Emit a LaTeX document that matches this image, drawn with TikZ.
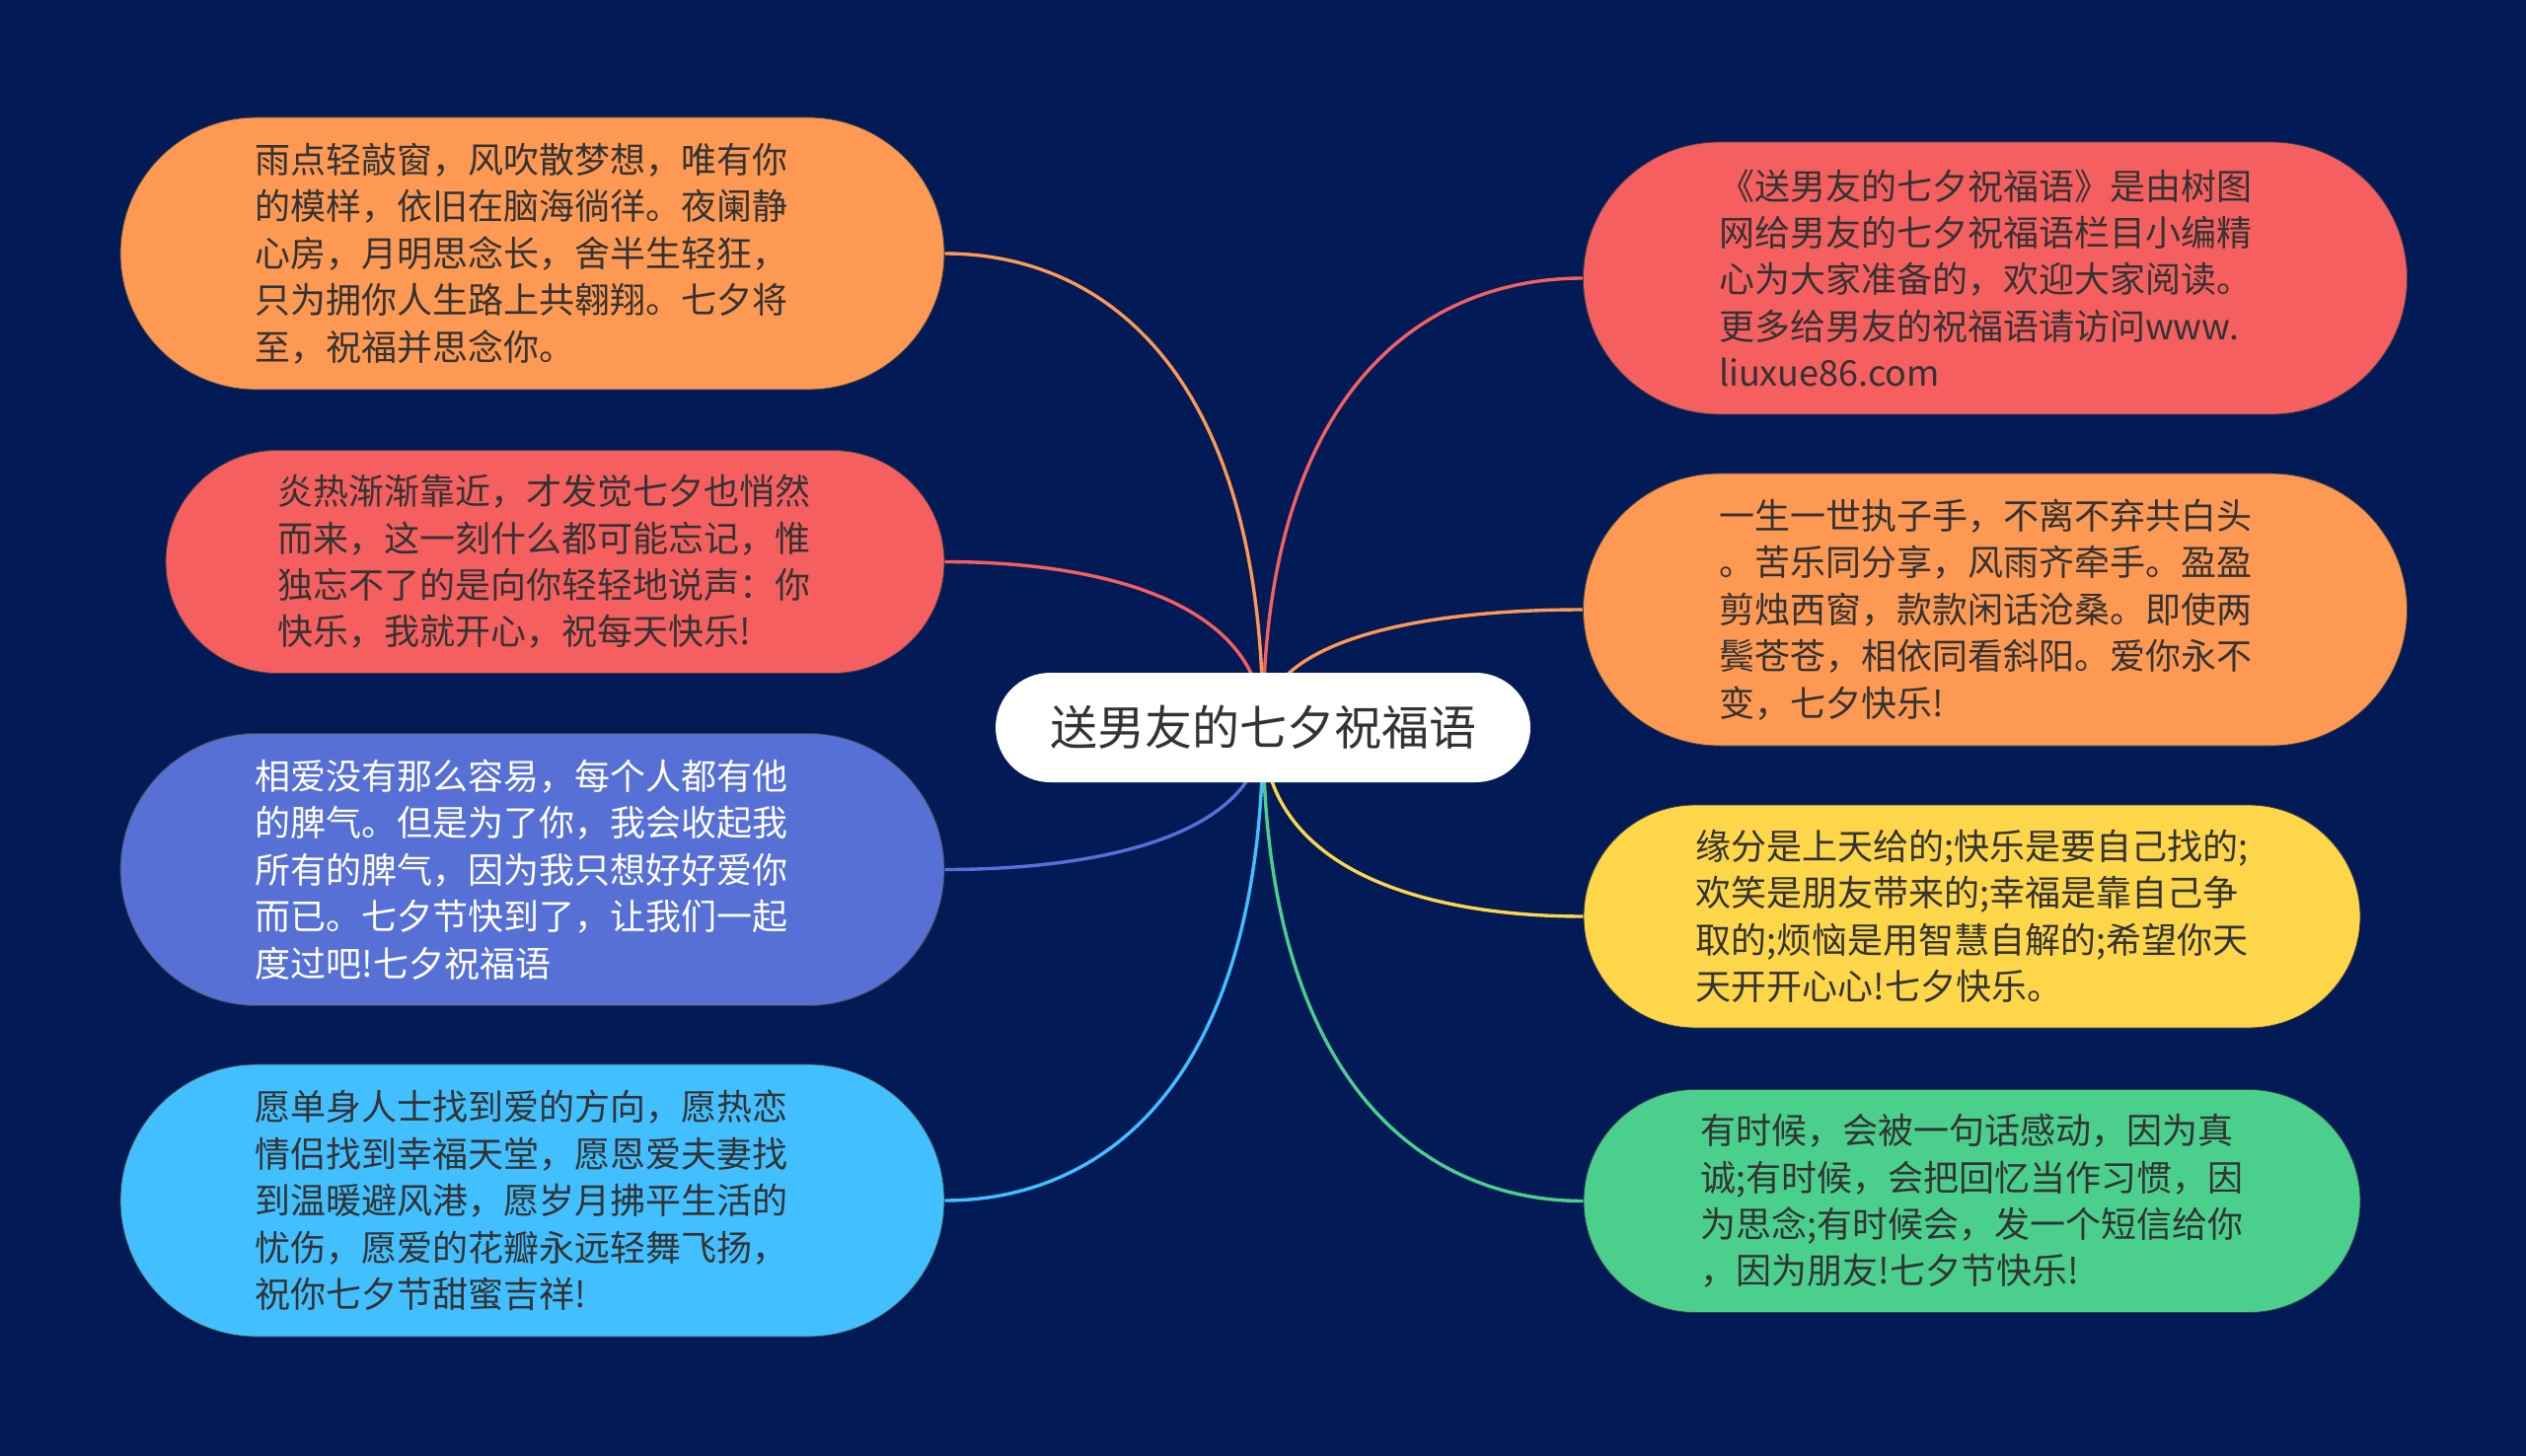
\documentclass[tikz,border=0pt]{standalone}
\usepackage{fontspec}
\newfontfamily\cjk{Noto Sans CJK SC}
\usetikzlibrary{calc}
\definecolor{bgc}{HTML}{021B57}
\definecolor{corange}{HTML}{FD9953}
\definecolor{cred}{HTML}{F65F60}
\definecolor{cblue}{HTML}{5770D6}
\definecolor{ccyan}{HTML}{42BFFE}
\definecolor{cyellow}{HTML}{FDD64A}
\definecolor{cgreen}{HTML}{4BCF8D}
\definecolor{ctext}{HTML}{333333}
\newcommand\padr[1]{\hspace*{#1}}
\pgfdeclarelayer{bglayer}
\pgfdeclarelayer{linelayer}
\pgfsetlayers{bglayer,linelayer,main}
\begin{document}
\begin{tikzpicture}[x=0.5pt,y=-0.5pt,
  leaf/.style={inner sep=0pt, align=left, draw=black!75, line width=0.4pt,
    text=ctext, font=\cjk\fontsize{18pt}{23.7pt}\selectfont},
  bigleaf/.style={leaf, minimum width=417.5pt, minimum height=138pt, rounded corners=69pt},
  smallleaf/.style={leaf, minimum height=113pt, rounded corners=56.5pt},
  rootnode/.style={inner sep=0pt, fill=white, text=ctext, minimum width=271pt,
    minimum height=55.5pt, rounded corners=27.75pt, font=\cjk\fontsize{24pt}{28pt}\selectfont},
  conn/.style={line width=1.7pt}]
\begin{pgfonlayer}{bglayer}
\fill[bgc] (0,0) rectangle (2560,1476);
\end{pgfonlayer}
\useasboundingbox (0,0) rectangle (2560,1476);

\node[rootnode] (C) at (1280,737.5) {送男友的七夕祝福语};

\node[bigleaf, fill=corange] (L1) at (539.5,257) {雨点轻敲窗，风吹散梦想，唯有你\padr{11pt}\\的模样，依旧在脑海徜徉。夜阑静\\心房，月明思念长，舍半生轻狂，\\只为拥你人生路上共翱翔。七夕将\\至，祝福并思念你。};
\node[smallleaf, fill=cred, minimum width=394.5pt] (L2) at (562.5,569.5) {炎热渐渐靠近，才发觉七夕也悄然\padr{11pt}\\而来，这一刻什么都可能忘记，惟\\独忘不了的是向你轻轻地说声：你\\快乐，我就开心，祝每天快乐!};
\node[bigleaf, fill=cblue, text=white] (L3) at (539.5,881.5) {相爱没有那么容易，每个人都有他\padr{11pt}\\的脾气。但是为了你，我会收起我\\所有的脾气，因为我只想好好爱你\\而已。七夕节快到了，让我们一起\\度过吧!七夕祝福语};
\node[bigleaf, fill=ccyan] (L4) at (539.5,1217) {愿单身人士找到爱的方向，愿热恋\padr{11pt}\\情侣找到幸福天堂，愿恩爱夫妻找\\到温暖避风港，愿岁月拂平生活的\\忧伤，愿爱的花瓣永远轻舞飞扬，\\祝你七夕节甜蜜吉祥!};

\node[bigleaf, fill=cred] (R1) at (2022,282) {《送男友的七夕祝福语》是由树图\padr{10pt}\\网给男友的七夕祝福语栏目小编精\\心为大家准备的，欢迎大家阅读。\\更多给男友的祝福语请访问www.\\liuxue86.com};
\node[bigleaf, fill=corange] (R2) at (2022,618) {一生一世执子手，不离不弃共白头\padr{10pt}\\。苦乐同分享，风雨齐牵手。盈盈\\剪烛西窗，款款闲话沧桑。即使两\\鬓苍苍，相依同看斜阳。爱你永不\\变，七夕快乐!};
\node[smallleaf, fill=cyellow, minimum width=393.5pt] (R3) at (1998.5,929) {缘分是上天给的;快乐是要自己找的;\\欢笑是朋友带来的;幸福是靠自己争\\取的;烦恼是用智慧自解的;希望你天\\天开开心心!七夕快乐。};
\node[smallleaf, fill=cgreen, minimum width=393.5pt] (R4) at (1998.5,1217.5) {有时候，会被一句话感动，因为真\\诚;有时候，会把回忆当作习惯，因\padr{5pt}\\为思念;有时候会，发一个短信给你\\，因为朋友!七夕节快乐!};

\begin{pgfonlayer}{linelayer}
\coordinate (cc) at (C.center);
\foreach \n/\col/\side in {L1/corange/east, L2/cred/east, L3/cblue/east, L4/ccyan/east,
                          R1/cred/west, R2/corange/west, R3/cyellow/west, R4/cgreen/west}{
  \draw[conn, draw=\col] (\n.\side) .. controls ($(\n.\side)!0.5!(cc |- \n.\side)$)
     and ($(cc)!0.75!(cc |- \n.\side)$) .. (cc);
}
\end{pgfonlayer}
\end{tikzpicture}
\end{document}
